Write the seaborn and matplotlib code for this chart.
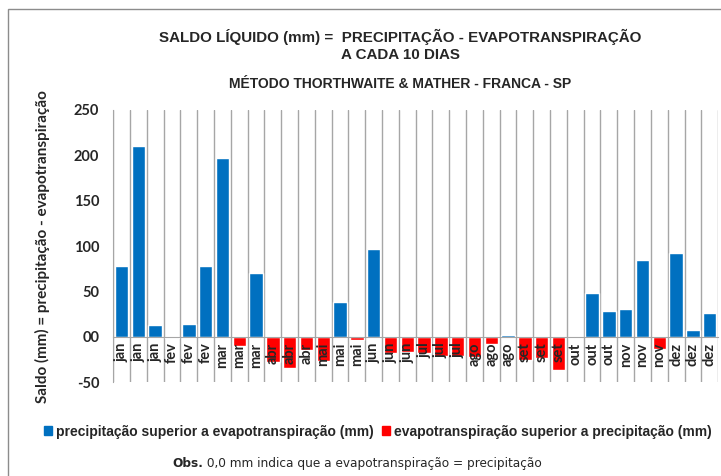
import pandas as pd
import seaborn as sns
import matplotlib.pyplot as plt
from matplotlib.patches import Patch, Rectangle

# saldo a cada 10 dias (3 decêndios por mês)
meses = ["jan", "jan", "jan", "fev", "fev", "fev", "mar", "mar", "mar",
         "abr", "abr", "abr", "mai", "mai", "mai", "jun", "jun", "jun",
         "jul", "jul", "jul", "ago", "ago", "ago", "set", "set", "set",
         "out", "out", "out", "nov", "nov", "nov", "dez", "dez", "dez"]
saldo = [78, 210, 13, -1, 14, 78, 197, -10, 70,
         -28, -34, -14, -27, 38, -3, 97, -18, -17,
         -18, -21, -21, -22, -8, 1.5, -26, -23, -37,
         -1, 48, 28, 31, 85, -13, 92, 7, 26]

rotulo_pos = "precipitação superior a evapotranspiração (mm)"
rotulo_neg = "evapotranspiração superior a precipitação (mm)"
azul = "#0070C0"
vermelho = "#FF0000"

df = pd.DataFrame({"pos": range(len(saldo)), "mes": meses, "saldo": saldo})
df["tipo"] = df["saldo"].apply(lambda v: rotulo_pos if v > 0 else rotulo_neg)

sns.set_style("white")
plt.rcParams['font.family'] = ['Liberation Sans', 'DejaVu Sans']

fig = plt.figure(figsize=(7.21, 4.76), dpi=100)
ax = fig.add_axes([0.157, 0.197, 0.839, 0.572])

sns.barplot(data=df, x="pos", y="saldo", hue="tipo", dodge=False,
            palette={rotulo_pos: azul, rotulo_neg: vermelho},
            width=0.8, saturation=1, legend=False, ax=ax)

ax.set_ylim(-50, 250)
ax.set_xlim(-0.5, len(saldo) - 0.5)
ax.set_yticks([-50, 0, 50, 100, 150, 200, 250])
ax.set_yticklabels(["-50", "00", "50", "100", "150", "200", "250"],
                   fontfamily="Lato", fontweight="bold", fontsize=10.5)

# linhas verticais separando os decêndios
for b in range(len(saldo) + 1):
    ax.axvline(b - 0.5, color="#a6a6a6", lw=1, zorder=0)

ax.set_axisbelow(False)
for s in ["top", "right"]:
    ax.spines[s].set_visible(False)
ax.spines["left"].set_color("#a6a6a6")
ax.spines["bottom"].set_position(("data", 0))
ax.spines["bottom"].set_color("#a6a6a6")
ax.tick_params(axis="y", length=4, color="#a6a6a6", pad=6)
ax.tick_params(axis="x", length=0, pad=4)
ax.set_xticks(df["pos"])
ax.set_xticklabels(meses, rotation=90, fontfamily="Lato", fontweight="bold", fontsize=10.5)
ax.set_xlabel("")
ax.set_ylabel("Saldo (mm) = precipitação - evapotranspiração",
              fontfamily="Lato", fontweight="bold", fontsize=11)
ax.yaxis.set_label_coords(-0.105, 0.5)

fig.text(0.555, 0.922, "SALDO LÍQUIDO (mm) =  PRECIPITAÇÃO - EVAPOTRANSPIRAÇÃO",
         ha="center", va="center", fontweight="bold", fontsize=10.9)
fig.text(0.555, 0.884, "A CADA 10 DIAS",
         ha="center", va="center", fontweight="bold", fontsize=10.9)
fig.text(0.555, 0.823, "MÉTODO THORTHWAITE & MATHER - FRANCA - SP",
         ha="center", va="center", fontweight="bold", fontsize=10)

handles = [Patch(color=azul, label=rotulo_pos), Patch(color=vermelho, label=rotulo_neg)]
fig.legend(handles=handles, loc="center", bbox_to_anchor=(0.524, 0.093), ncol=2,
           frameon=False, handlelength=0.6, handleheight=0.6, handletextpad=0.25,
           columnspacing=0.6, borderpad=0, prop={"weight": "bold", "size": 10})

t1 = fig.text(0.239, 0.027, "Obs.", ha="left", va="center", fontweight="bold",
              fontfamily="DejaVu Sans", fontsize=8.7)
ax.annotate(" 0,0 mm indica que a evapotranspiração = precipitação", xy=(1, 0),
            xycoords=t1, va="bottom", ha="left", fontfamily="DejaVu Sans", fontsize=8.7,
            annotation_clip=False)

# moldura do gráfico
fig.patches.append(Rectangle((8 / 721, -0.1), 1.2, 1.1 - 9 / 476, transform=fig.transFigure,
                             fill=False, edgecolor="#8c8c8c", lw=1))

fig.savefig("out.png", dpi=100)
